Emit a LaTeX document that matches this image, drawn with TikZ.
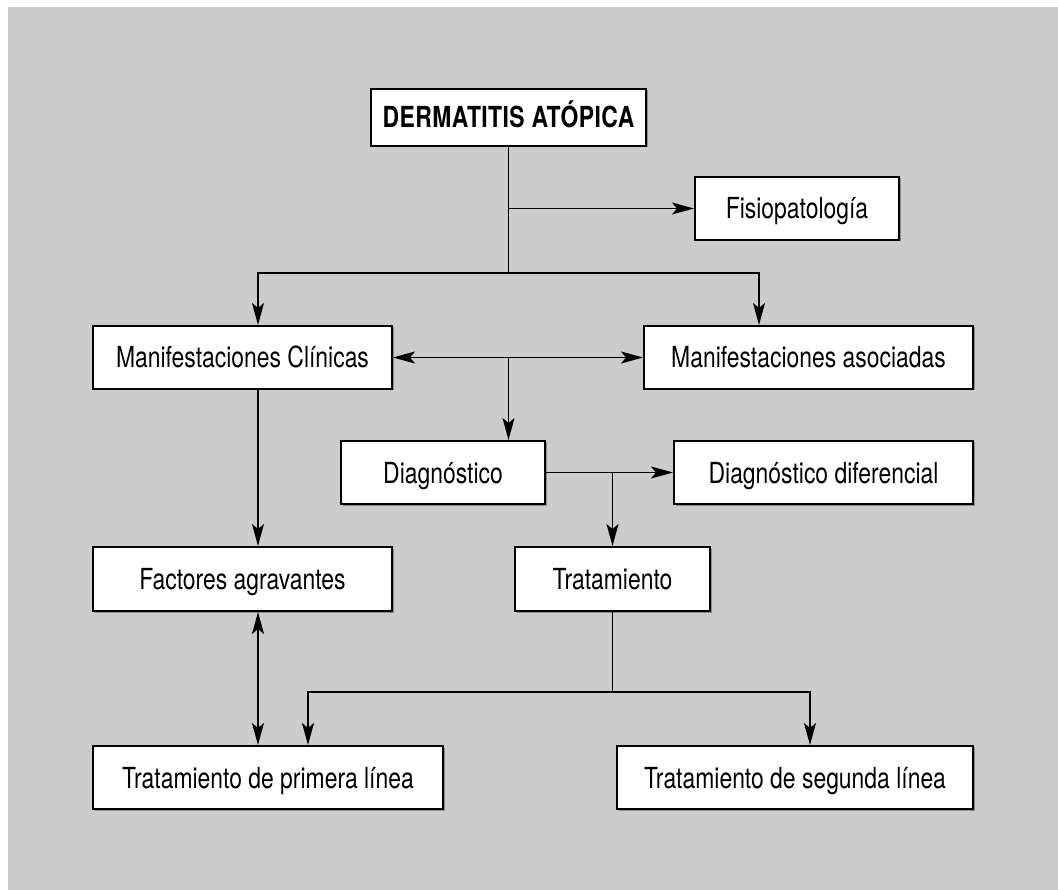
\documentclass[tikz,border=0pt]{standalone}
\usepackage{fontspec}
\setmainfont{TeX Gyre Heros}[FakeStretch=0.79]
\usepackage{xcolor}
\usepackage{tikz}
\usetikzlibrary{shapes,arrows.meta,positioning,calc,shadows}
\definecolor{panelgray}{HTML}{CCCCCC}

\begin{document}
\begin{tikzpicture}[x=1pt, y=-1pt, >={Stealth[length=22pt,width=12pt,inset=5pt]}]
    \tikzstyle{box} = [rectangle, draw=black, line width=2pt, fill=white, inner sep=0pt, minimum height=63pt, text height=21pt, text depth=0pt, font=\fontsize{29}{34}\selectfont, drop shadow={shadow xshift=1.5pt, shadow yshift=-1.5pt, fill=black!45, opacity=1}]
    \tikzstyle{line} = [draw, line width=1.5pt]
    \tikzstyle{arrow} = [line, ->]
    \tikzstyle{both} = [line, <->]

    % Panel
    \useasboundingbox (0,0) rectangle (1058,890);
    \fill [panelgray] (8,7) rectangle (1058,890);

    % Nodes
    \node [box, minimum width=275pt, minimum height=57pt, font=\fontsize{29}{34}\selectfont\bfseries\addfontfeatures{LetterSpace=1.5}] (derm) at (508.5,117.5) {DERMATITIS ATÓPICA};
    \node [box, minimum width=204pt] (fisio) at (797,208.5) {Fisiopatología};
    \node [box, minimum width=299pt] (clin) at (242.5,357.5) {Manifestaciones Clínicas};
    \node [box, minimum width=329pt] (asoc) at (808.5,357.5) {Manifestaciones asociadas};
    \node [box, minimum width=204pt] (diag) at (443,472.5) {Diagnóstico};
    \node [box, minimum width=299pt] (difer) at (823.5,472.5) {Diagnóstico diferencial};
    \node [box, minimum width=299pt, minimum height=64pt] (factor) at (242.5,579) {Factores agravantes};
    \node [box, minimum width=195pt, minimum height=64pt] (trat) at (612.5,579) {Tratamiento};
    \node [box, minimum width=350pt] (prim) at (268,777.5) {Tratamiento de primera línea};
    \node [box, minimum width=356pt] (seg) at (795,777.5) {Tratamiento de segunda línea};

    % Junctions
    \coordinate (split) at (508.5,273);
    \coordinate (lower) at (612.5,692);

    % Edges
    \draw [line] (derm.south) -- (split);
    \draw [arrow] (derm.south |- fisio.west) -- (fisio.west);
    \draw [arrow] (split) -| ([xshift=15.5pt]clin.north);
    \draw [arrow] (split) -| ([xshift=-49.5pt]asoc.north);
    \draw [both] (clin.east) -- (asoc.west);
    \draw [arrow] (clin.east -| derm.south) -- (diag.north -| derm.south);
    \draw [arrow] (diag.east) -- (difer.west);
    \draw [arrow] (diag.east -| trat.north) -- (trat.north);
    \draw [arrow] ([xshift=15.5pt]clin.south) -- ([xshift=15.5pt]factor.north);
    \draw [both] ([xshift=15.5pt]factor.south) -- ([xshift=-10pt]prim.north);
    \draw [line] (trat.south) -- (lower);
    \draw [arrow] (lower) -| ([xshift=40pt]prim.north);
    \draw [arrow] (lower) -| ([xshift=15pt]seg.north);
\end{tikzpicture}
\end{document}
